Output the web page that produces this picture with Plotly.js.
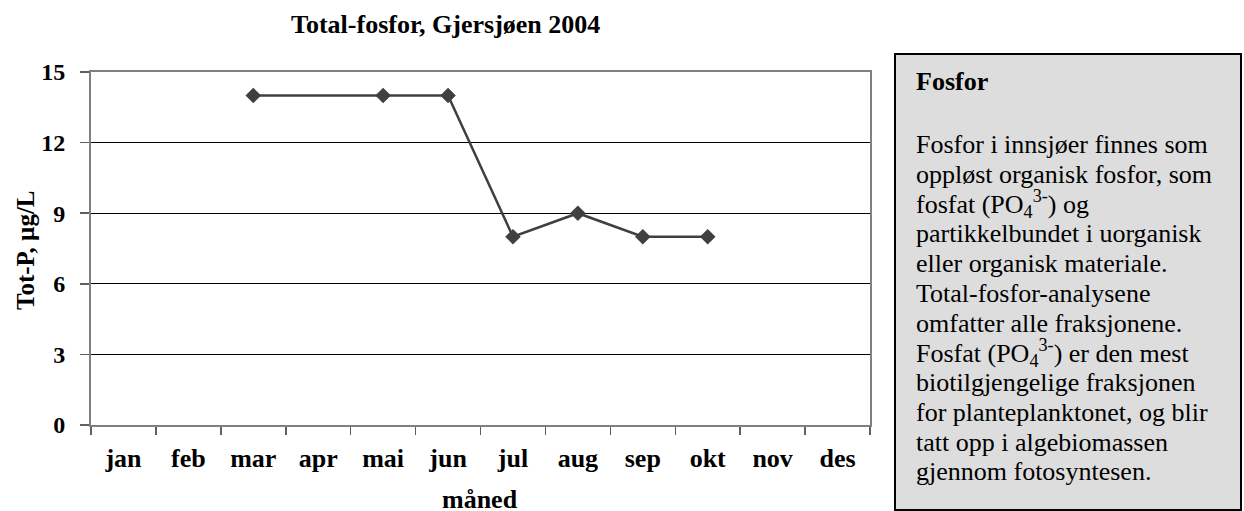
<!DOCTYPE html>
<html>
<head>
<meta charset="utf-8">
<script src="https://cdn.plot.ly/plotly-3.0.1.min.js"></script>
<style>html,body{margin:0;padding:0;background:#fff;}#chart{width:1244px;height:511px;}</style>
</head>
<body>
<div id="chart"></div>
<script>
// ---- data ----
const months = ["jan","feb","mar","apr","mai","jun","jul","aug","sep","okt","nov","des"];
const totP = [null, null, 14, null, 14, 14, 8, 9, 8, 8, null, null];
const yTicks = [0, 3, 6, 9, 12, 15];
const chartTitle = "Total-fosfor, Gjersjøen 2004";
const yTitle = "Tot-P, µg/L";
const xTitle = "måned";
const boxHeading = "Fosfor";
const boxLines = [
  "Fosfor i innsjøer finnes som",
  "oppløst organisk fosfor, som",
  "fosfat (PO<sub>4</sub><sup>3-</sup>) og",
  "partikkelbundet i uorganisk",
  "eller organisk materiale.",
  "Total-fosfor-analysene",
  "omfatter alle fraksjonene.",
  "Fosfat (PO<sub>4</sub><sup>3-</sup>) er den mest",
  "biotilgjengelige fraksjonen",
  "for planteplanktonet, og blir",
  "tatt opp i algebiomassen",
  "gjennom fotosyntesen."
];

// ---- layout helpers (pixel -> paper) ----
const W = 1244, H = 511;
const L = 91, R = 870, T = 72, B = 425;
const px = x => (x - L) / (R - L);
const py = y => (B - y) / (B - T);
const serif = "Liberation Serif, Times New Roman, serif";

const annotations = [
  {text: "<b>" + chartTitle + "</b>", xref: "paper", yref: "paper", x: px(445), y: py(24),
   xanchor: "center", yanchor: "middle", showarrow: false, font: {family: serif, size: 26, color: "#000"}},
  {text: "<b>" + yTitle + "</b>", xref: "paper", yref: "paper", x: px(25), y: py(250),
   xanchor: "center", yanchor: "middle", textangle: -90, showarrow: false, font: {family: serif, size: 25, color: "#000"}},
  {text: "<b>" + xTitle + "</b>", xref: "paper", yref: "paper", x: px(480), y: py(499),
   xanchor: "center", yanchor: "middle", showarrow: false, font: {family: serif, size: 26, color: "#000"}},
  {text: "<b>" + boxHeading + "</b>", xref: "paper", yref: "paper", x: px(914), y: py(81.5),
   xanchor: "left", yanchor: "middle", showarrow: false, font: {family: serif, size: 26, color: "#000"}}
];
boxLines.forEach((t, i) => {
  annotations.push({text: t, xref: "paper", yref: "paper", x: px(914), y: py(144.5 + i * 29.75),
    xanchor: "left", yanchor: "middle", showarrow: false, font: {family: serif, size: 26, color: "#000"}});
});

const trace = {
  x: months, y: totP, type: "scatter", mode: "lines+markers", connectgaps: true,
  line: {color: "#404040", width: 2.5},
  marker: {symbol: "diamond", size: 12, color: "#404040"},
  hoverinfo: "skip"
};

const layout = {
  width: W, height: H,
  margin: {l: L, r: W - R, t: T, b: H - B, pad: 0},
  paper_bgcolor: "#fff", plot_bgcolor: "#fff",
  showlegend: false,
  font: {family: serif, color: "#000"},
  xaxis: {
    type: "category", categoryorder: "array", categoryarray: months,
    range: [-0.5, months.length - 0.5],
    tickson: "boundaries", ticks: "outside", ticklen: 8, tickcolor: "#606060", tickwidth: 1.5,
    showline: true, linecolor: "#808080", linewidth: 2, mirror: true,
    showgrid: false, zeroline: false,
    tickfont: {family: serif, size: 26, color: "#000", weight: "bold"},
    ticklabelstandoff: 9
  },
  yaxis: {
    range: [0, 15], tickvals: yTicks, ticktext: yTicks.map(String),
    ticks: "outside", ticklen: 9, tickcolor: "#606060", tickwidth: 1.5,
    showline: true, linecolor: "#808080", linewidth: 2, mirror: true,
    showgrid: true, gridcolor: "#000", gridwidth: 1, zeroline: false,
    tickfont: {family: serif, size: 24, color: "#000", weight: "bold"},
    ticklabelstandoff: 10
  },
  shapes: [
    {type: "rect", xref: "paper", yref: "paper", x0: px(895), x1: px(1241), y0: py(510), y1: py(54),
     fillcolor: "#dddddd", line: {color: "#000", width: 2}, layer: "below"}
  ],
  annotations: annotations
};

Plotly.newPlot("chart", [trace], layout, {displayModeBar: false, staticPlot: true});
</script>
</body>
</html>
